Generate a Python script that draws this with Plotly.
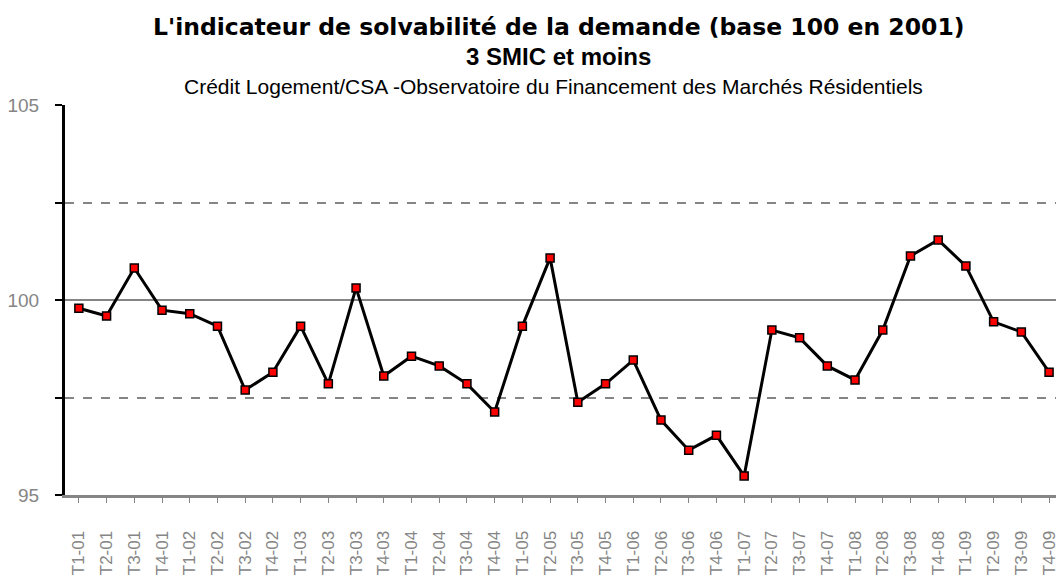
import plotly.graph_objects as go

categories = ["T1-01", "T2-01", "T3-01", "T4-01",
              "T1-02", "T2-02", "T3-02", "T4-02",
              "T1-03", "T2-03", "T3-03", "T4-03",
              "T1-04", "T2-04", "T3-04", "T4-04",
              "T1-05", "T2-05", "T3-05", "T4-05",
              "T1-06", "T2-06", "T3-06", "T4-06",
              "T1-07", "T2-07", "T3-07", "T4-07",
              "T1-08", "T2-08", "T3-08", "T4-08",
              "T1-09", "T2-09", "T3-09", "T4-09"]

indicator = [99.79, 99.59, 100.82, 99.74,
             99.65, 99.33, 97.69, 98.15,
             99.33, 97.85, 100.31, 98.05,
             98.56, 98.31, 97.85, 97.13,
             99.33, 101.08, 97.38, 97.85,
             98.46, 96.92, 96.15, 96.53,
             95.49, 99.23, 99.03, 98.31,
             97.95, 99.23, 101.13, 101.54,
             100.87, 99.44, 99.18, 98.15]

y_ticks = [95, 100, 105]

title_line1 = "L'indicateur de solvabilité de la demande (base 100 en 2001)"
title_line2 = "3 SMIC et moins"
subtitle = "Crédit Logement/CSA -Observatoire du Financement des Marchés Résidentiels"

FONT = "Liberation Sans, Arial, sans-serif"
GRAY = "#858585"

# plot area in pixels: x 65..1059, y 105..495
PL, PR, PT, PB = 65, 1059, 105, 495


def px_x(p):
    return (p - PL) / (PR - PL)


def px_y(p):
    return (PB - p) / (PB - PT)


fig = go.Figure()
fig.add_trace(go.Scatter(
    x=list(range(len(categories))), y=indicator,
    mode="lines+markers",
    line=dict(color="black", width=3),
    marker=dict(symbol="square", size=8, color="#ff0000",
                line=dict(color="black", width=1.5)),
    cliponaxis=False,
    showlegend=False,
))

fig.update_layout(
    width=1059, height=576,
    margin=dict(l=PL, r=1059 - PR, t=PT, b=576 - PB),
    paper_bgcolor="white", plot_bgcolor="white",
    font=dict(family=FONT, color=GRAY),
    xaxis=dict(
        range=[-0.5, 35.25],
        tickmode="array",
        tickvals=list(range(len(categories))),
        ticktext=categories,
        tickangle=-90,
        tickfont=dict(size=17, color=GRAY, family=FONT),
        ticks="outside", ticklen=5, tickcolor=GRAY, tickwidth=1,
        tickson="boundaries",
        ticklabelstandoff=21,
        ticklabeloverflow="allow",
        showgrid=False,
        showline=True, linecolor=GRAY, linewidth=3,
        zeroline=False,
    ),
    yaxis=dict(
        range=[95, 105],
        tickmode="array", tickvals=y_ticks,
        ticktext=[str(v) for v in y_ticks],
        tickfont=dict(size=19, color=GRAY, family=FONT),
        ticks="outside", ticklen=7, tickcolor="black", tickwidth=2,
        ticklabelstandoff=12,
        showgrid=True, gridcolor=GRAY, gridwidth=2,
        showline=True, linecolor="black", linewidth=3,
        zeroline=False,
        minor=dict(dtick=2.5, tick0=95, showgrid=True, gridcolor=GRAY,
                   gridwidth=1.5, griddash="dash",
                   ticks="outside", ticklen=7, tickcolor="black", tickwidth=2),
    ),
)

fig.add_annotation(text="<b>" + title_line1 + "</b>", xref="paper", yref="paper",
                   x=px_x(560), y=px_y(27), xanchor="center", yanchor="middle",
                   showarrow=False,
                   font=dict(size=23.5, color="black", family="DejaVu Sans, sans-serif"))
fig.add_annotation(text="<b>" + title_line2 + "</b>", xref="paper", yref="paper",
                   x=px_x(560), y=px_y(56), xanchor="center", yanchor="middle",
                   showarrow=False, font=dict(size=24, color="black", family=FONT))
fig.add_annotation(text=subtitle, xref="paper", yref="paper",
                   x=px_x(555), y=px_y(87), xanchor="center", yanchor="middle",
                   showarrow=False, font=dict(size=21, color="black", family=FONT))

fig.write_html("out.html", config={"displayModeBar": False},
               post_script="document.body.style.margin='0px';")
